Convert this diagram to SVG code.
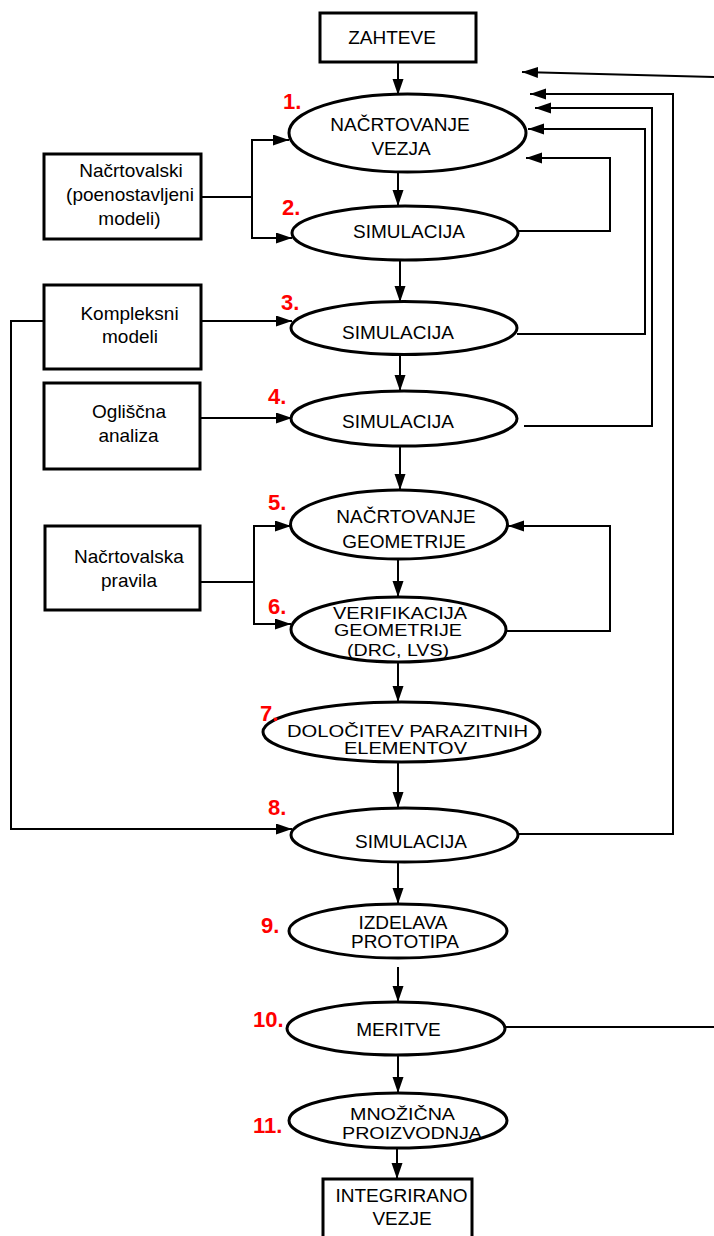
<svg xmlns="http://www.w3.org/2000/svg" width="714" height="1236" viewBox="0 0 714 1236">
  <style>
    .box { fill: #fff; stroke: #000; stroke-width: 3; }
    .oval { fill: #fff; stroke: #000; stroke-width: 3; }
    .lbl { font-family: "Liberation Sans", Arial, sans-serif; font-size: 19px; fill: #000; text-anchor: middle; }
    .tight { font-size: 16.5px; }
    .num { font-family: "Liberation Sans", Arial, sans-serif; font-size: 22px; font-weight: bold; fill: #ff0000; }
    .wire { fill: none; stroke: #000; stroke-width: 2; }
    .arr { marker-end: url(#head); }
  </style>
  <defs>
    <marker id="head" markerUnits="userSpaceOnUse" markerWidth="17" markerHeight="12" refX="16" refY="5.5" orient="auto">
      <path d="M0,0 L16,5.5 L0,11 Z" fill="#000"/>
    </marker>
  </defs>
  <rect width="714" height="1236" fill="#fff"/>

  <!-- connectors -->
  <g id="connectors">
    <path class="wire arr" d="M398,62 V95"/>
    <path class="wire arr" d="M398,172 V206"/>
    <path class="wire arr" d="M400,260 V302"/>
    <path class="wire arr" d="M400,355 V391"/>
    <path class="wire arr" d="M400,446 V490"/>
    <path class="wire arr" d="M398,559 V597"/>
    <path class="wire arr" d="M398,662 V702"/>
    <path class="wire arr" d="M398,762 V808"/>
    <path class="wire arr" d="M398,862 V904"/>
    <path class="wire arr" d="M398,967 V1002"/>
    <path class="wire arr" d="M398,1055 V1093"/>
    <path class="wire arr" d="M397,1148 V1179"/>
    <!-- simplified models feed steps 1 and 2 -->
    <path class="wire arr" d="M201,197 H252 V140 H289"/>
    <path class="wire arr" d="M252,197 V238 H292"/>
    <!-- complex models feed steps 3 and 8 -->
    <path class="wire arr" d="M201,321 H292"/>
    <path class="wire arr" d="M44,321 H11 V829 H292"/>
    <!-- corner analysis -->
    <path class="wire arr" d="M200,418 H292"/>
    <!-- design rules feed steps 5 and 6 -->
    <path class="wire arr" d="M200,582 H254 V526 H291"/>
    <path class="wire arr" d="M254,582 V624 H291"/>
    <!-- feedback loops -->
    <path class="wire arr" d="M506,631 H610 V526 H508"/>
    <path class="wire arr" d="M518,231 H610 V158 H526"/>
    <path class="wire arr" d="M517,334 H645 V129 H528"/>
    <path class="wire arr" d="M524,426 H652 V108 H535"/>
    <path class="wire arr" d="M518,834 H673 V94 H530"/>
    <path class="wire" d="M505,1027 H714"/>
    <path class="wire arr" d="M714,77 L522,72"/>
  </g>

  <g id="zahteve">
    <rect class="box" x="320" y="13" width="156" height="49"/>
    <text class="lbl" x="392" y="44">ZAHTEVE</text>
  </g>

  <g id="step1">
    <ellipse class="oval" cx="407.5" cy="133" rx="118.5" ry="39"/>
    <text class="lbl" x="400" y="131">NAČRTOVANJE</text>
    <text class="lbl" x="401" y="155">VEZJA</text>
    <text class="num" x="283" y="109">1.</text>
  </g>

  <g id="step2">
    <ellipse class="oval" cx="405" cy="233" rx="113" ry="27"/>
    <text class="lbl" x="409" y="238">SIMULACIJA</text>
    <text class="num" x="282" y="215">2.</text>
  </g>

  <g id="step3">
    <ellipse class="oval" cx="404" cy="328" rx="113" ry="26.5"/>
    <text class="lbl" x="398" y="339">SIMULACIJA</text>
    <text class="num" x="281" y="310">3.</text>
  </g>

  <g id="step4">
    <ellipse class="oval" cx="404" cy="418.5" rx="113" ry="27.5"/>
    <text class="lbl" x="398" y="428">SIMULACIJA</text>
    <text class="num" x="268" y="404">4.</text>
  </g>

  <g id="step5">
    <ellipse class="oval" cx="399" cy="524.5" rx="108.5" ry="34.5"/>
    <text class="lbl" x="406" y="523">NAČRTOVANJE</text>
    <text class="lbl" x="404" y="548">GEOMETRIJE</text>
    <text class="num" x="268" y="510">5.</text>
  </g>

  <g id="step6">
    <ellipse class="oval" cx="398.5" cy="629.5" rx="107.5" ry="32.5"/>
    <text class="lbl tight" x="400" y="619" textLength="134" lengthAdjust="spacingAndGlyphs">VERIFIKACIJA</text>
    <text class="lbl tight" x="398" y="636" textLength="128" lengthAdjust="spacingAndGlyphs">GEOMETRIJE</text>
    <text class="lbl tight" x="398" y="656" textLength="102" lengthAdjust="spacingAndGlyphs">(DRC, LVS)</text>
    <text class="num" x="268" y="614">6.</text>
  </g>

  <g id="step7">
    <ellipse class="oval" cx="401.5" cy="732" rx="138.5" ry="30"/>
    <text class="lbl tight" x="407.5" y="737" textLength="241" lengthAdjust="spacingAndGlyphs">DOLOČITEV PARAZITNIH</text>
    <text class="lbl tight" x="405.5" y="754" textLength="123" lengthAdjust="spacingAndGlyphs">ELEMENTOV</text>
    <text class="num" x="260" y="721">7.</text>
  </g>

  <g id="step8">
    <ellipse class="oval" cx="404.5" cy="835" rx="113.5" ry="27"/>
    <text class="lbl" x="411" y="848">SIMULACIJA</text>
    <text class="num" x="268" y="815">8.</text>
  </g>

  <g id="step9">
    <ellipse class="oval" cx="398" cy="931" rx="109" ry="27"/>
    <text class="lbl" x="403" y="929">IZDELAVA</text>
    <text class="lbl" x="405" y="948">PROTOTIPA</text>
    <text class="num" x="261" y="933">9.</text>
  </g>

  <g id="step10">
    <ellipse class="oval" cx="396" cy="1028.5" rx="109" ry="26.5"/>
    <text class="lbl" x="398.5" y="1036">MERITVE</text>
    <text class="num" x="253" y="1027">10.</text>
  </g>

  <g id="step11">
    <ellipse class="oval" cx="398" cy="1120.5" rx="109" ry="27.5"/>
    <text class="lbl tight" x="402.5" y="1120" textLength="105" lengthAdjust="spacingAndGlyphs">MNOŽIČNA</text>
    <text class="lbl tight" x="412" y="1139" textLength="140" lengthAdjust="spacingAndGlyphs">PROIZVODNJA</text>
    <text class="num" x="253" y="1133">11.</text>
  </g>

  <g id="integrirano">
    <rect class="box" x="323" y="1179" width="149" height="70"/>
    <text class="lbl" x="401.5" y="1202">INTEGRIRANO</text>
    <text class="lbl" x="402" y="1225">VEZJE</text>
  </g>

  <g id="simplified-models">
    <rect class="box" x="44" y="154" width="157" height="85"/>
    <text class="lbl" x="131" y="177">Načrtovalski</text>
    <text class="lbl" x="130" y="201">(poenostavljeni</text>
    <text class="lbl" x="129.5" y="225">modeli)</text>
  </g>

  <g id="complex-models">
    <rect class="box" x="44" y="285" width="157" height="84"/>
    <text class="lbl" x="129.5" y="320">Kompleksni</text>
    <text class="lbl" x="130" y="343">modeli</text>
  </g>

  <g id="corner-analysis">
    <rect class="box" x="44" y="383" width="156" height="86"/>
    <text class="lbl" x="129" y="418">Ogliščna</text>
    <text class="lbl" x="128.5" y="442">analiza</text>
  </g>

  <g id="design-rules">
    <rect class="box" x="45" y="526" width="155" height="84"/>
    <text class="lbl" x="129" y="563">Načrtovalska</text>
    <text class="lbl" x="129" y="587">pravila</text>
  </g>
</svg>
